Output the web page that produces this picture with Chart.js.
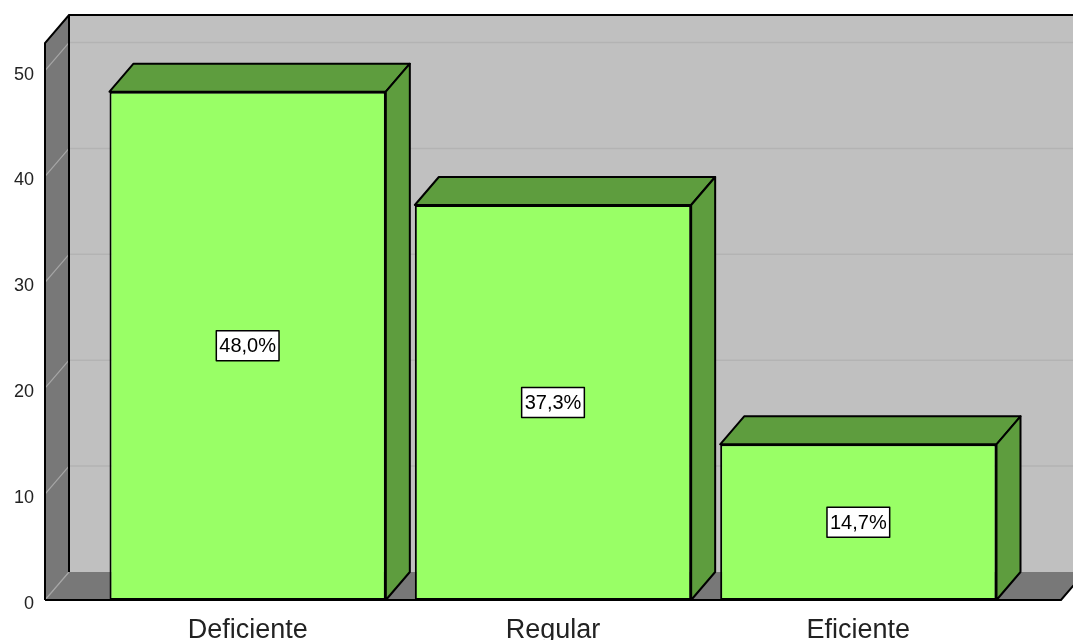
<!DOCTYPE html>
<html><head><meta charset="utf-8">
<script src="https://cdn.jsdelivr.net/npm/chart.js@4/dist/chart.umd.min.js"></script>
<style>html,body{margin:0;padding:0;background:#fff;}</style>
</head><body>
<canvas id="c" width="1073" height="640"></canvas>
<script>
const categories = ['Deficiente', 'Regular', 'Eficiente'];
const percentValues = [48.0, 37.3, 14.7];
const yTicks = [0, 10, 20, 30, 40, 50];
const yMax = 52.6;

const DX = 24, DY = 28, SIDE = 50;
const FONT = '"Liberation Sans", Arial, sans-serif';
Chart.defaults.font.family = FONT;

function fmt(v) { return v.toFixed(1).replace('.', ',') + '%'; }

const threeD = {
  id: 'threeD',
  beforeDatasetsDraw(chart) {
    const { ctx, chartArea: a, scales: { y } } = chart;
    const L = a.left - SIDE, R = a.right + SIDE, T = a.top, B = a.bottom;
    ctx.save();
    ctx.fillStyle = '#c0c0c0';
    ctx.fillRect(L + DX, T - DY, (R + DX) - (L + DX) + 20, (B - DY) - (T - DY));
    ctx.fillStyle = '#787878';
    ctx.beginPath();
    ctx.moveTo(L, T); ctx.lineTo(L + DX, T - DY); ctx.lineTo(L + DX, B - DY); ctx.lineTo(L, B); ctx.closePath(); ctx.fill();
    ctx.beginPath();
    ctx.moveTo(L, B); ctx.lineTo(L + DX, B - DY); ctx.lineTo(R + DX, B - DY); ctx.lineTo(R, B); ctx.closePath(); ctx.fill();
    y.ticks.forEach(t => {
      const py = y.getPixelForValue(t.value);
      ctx.lineWidth = 1.2;
      ctx.strokeStyle = '#a6a6a6';
      ctx.beginPath(); ctx.moveTo(L, py); ctx.lineTo(L + DX, py - DY); ctx.stroke();
      if (t.value > 0) {
        ctx.strokeStyle = '#b3b3b3';
        ctx.lineWidth = 1.5;
        ctx.beginPath(); ctx.moveTo(L + DX, py - DY); ctx.lineTo(R + DX + 20, py - DY); ctx.stroke();
      }
    });
    ctx.strokeStyle = '#000';
    ctx.lineWidth = 2;
    ctx.beginPath();
    ctx.moveTo(L, B); ctx.lineTo(L, T); ctx.lineTo(L + DX, T - DY); ctx.lineTo(R + DX + 20, T - DY);
    ctx.moveTo(L + DX, T - DY); ctx.lineTo(L + DX, B - DY);
    ctx.moveTo(L, B); ctx.lineTo(R, B); ctx.lineTo(R + DX, B - DY);
    ctx.stroke();
    ctx.restore();
  },
  afterDatasetsDraw(chart) {
    const { ctx } = chart;
    const meta = chart.getDatasetMeta(0);
    ctx.save();
    meta.data.forEach((bar, i) => {
      const p = bar.getProps(['x', 'y', 'base', 'width'], true);
      const l = p.x - p.width / 2, r = p.x + p.width / 2, top = p.y, base = p.base;
      ctx.fillStyle = '#5e9d3e';
      ctx.strokeStyle = '#000';
      ctx.lineWidth = 2;
      ctx.lineJoin = 'round';
      ctx.beginPath();
      ctx.moveTo(l, top); ctx.lineTo(l + DX, top - DY); ctx.lineTo(r + DX, top - DY); ctx.lineTo(r, top); ctx.closePath();
      ctx.fill(); ctx.stroke();
      ctx.beginPath();
      ctx.moveTo(r, top); ctx.lineTo(r + DX, top - DY); ctx.lineTo(r + DX, base - DY); ctx.lineTo(r, base); ctx.closePath();
      ctx.fill(); ctx.stroke();
      const txt = fmt(percentValues[i]);
      ctx.font = '20px ' + FONT;
      const tw = ctx.measureText(txt).width;
      const cy = (top + base) / 2;
      const bw = tw + 6, bh = 30;
      ctx.fillStyle = '#fff';
      ctx.fillRect(p.x - bw / 2, cy - bh / 2, bw, bh);
      ctx.lineWidth = 1.5;
      ctx.strokeRect(p.x - bw / 2, cy - bh / 2, bw, bh);
      ctx.fillStyle = '#000';
      ctx.textAlign = 'center';
      ctx.textBaseline = 'middle';
      ctx.fillText(txt, p.x, cy + 1);
    });
    ctx.restore();
  }
};

new Chart(document.getElementById('c'), {
  type: 'bar',
  data: {
    labels: categories,
    datasets: [{
      data: percentValues,
      backgroundColor: '#99ff66',
      borderColor: '#000',
      borderWidth: 2,
      borderSkipped: false,
      barPercentage: 0.905,
      categoryPercentage: 1
    }]
  },
  options: {
    responsive: false,
    animation: false,
    events: [],
    layout: { padding: { top: 43, right: 62, left: 0, bottom: 0 } },
    plugins: { legend: { display: false }, tooltip: { enabled: false } },
    scales: {
      x: {
        offset: true,
        grid: { display: false, drawTicks: false },
        border: { display: false },
        ticks: { font: { size: 27 }, color: '#222', padding: 14, maxRotation: 0, autoSkip: false },
        afterFit(s) { s.height = 40; s.paddingLeft = 0; s.paddingRight = 0; }
      },
      y: {
        min: 0, max: yMax,
        grid: { display: false, drawTicks: false },
        border: { display: false },
        ticks: { stepSize: 10, font: { size: 18 }, color: '#222', padding: 61, labelOffset: 4 },
        afterBuildTicks(s) { s.ticks = yTicks.map(v => ({ value: v })); },
        afterFit(s) { s.width = 95; s.paddingTop = 0; s.paddingBottom = 0; }
      }
    }
  },
  plugins: [threeD]
});
</script>
</body></html>
